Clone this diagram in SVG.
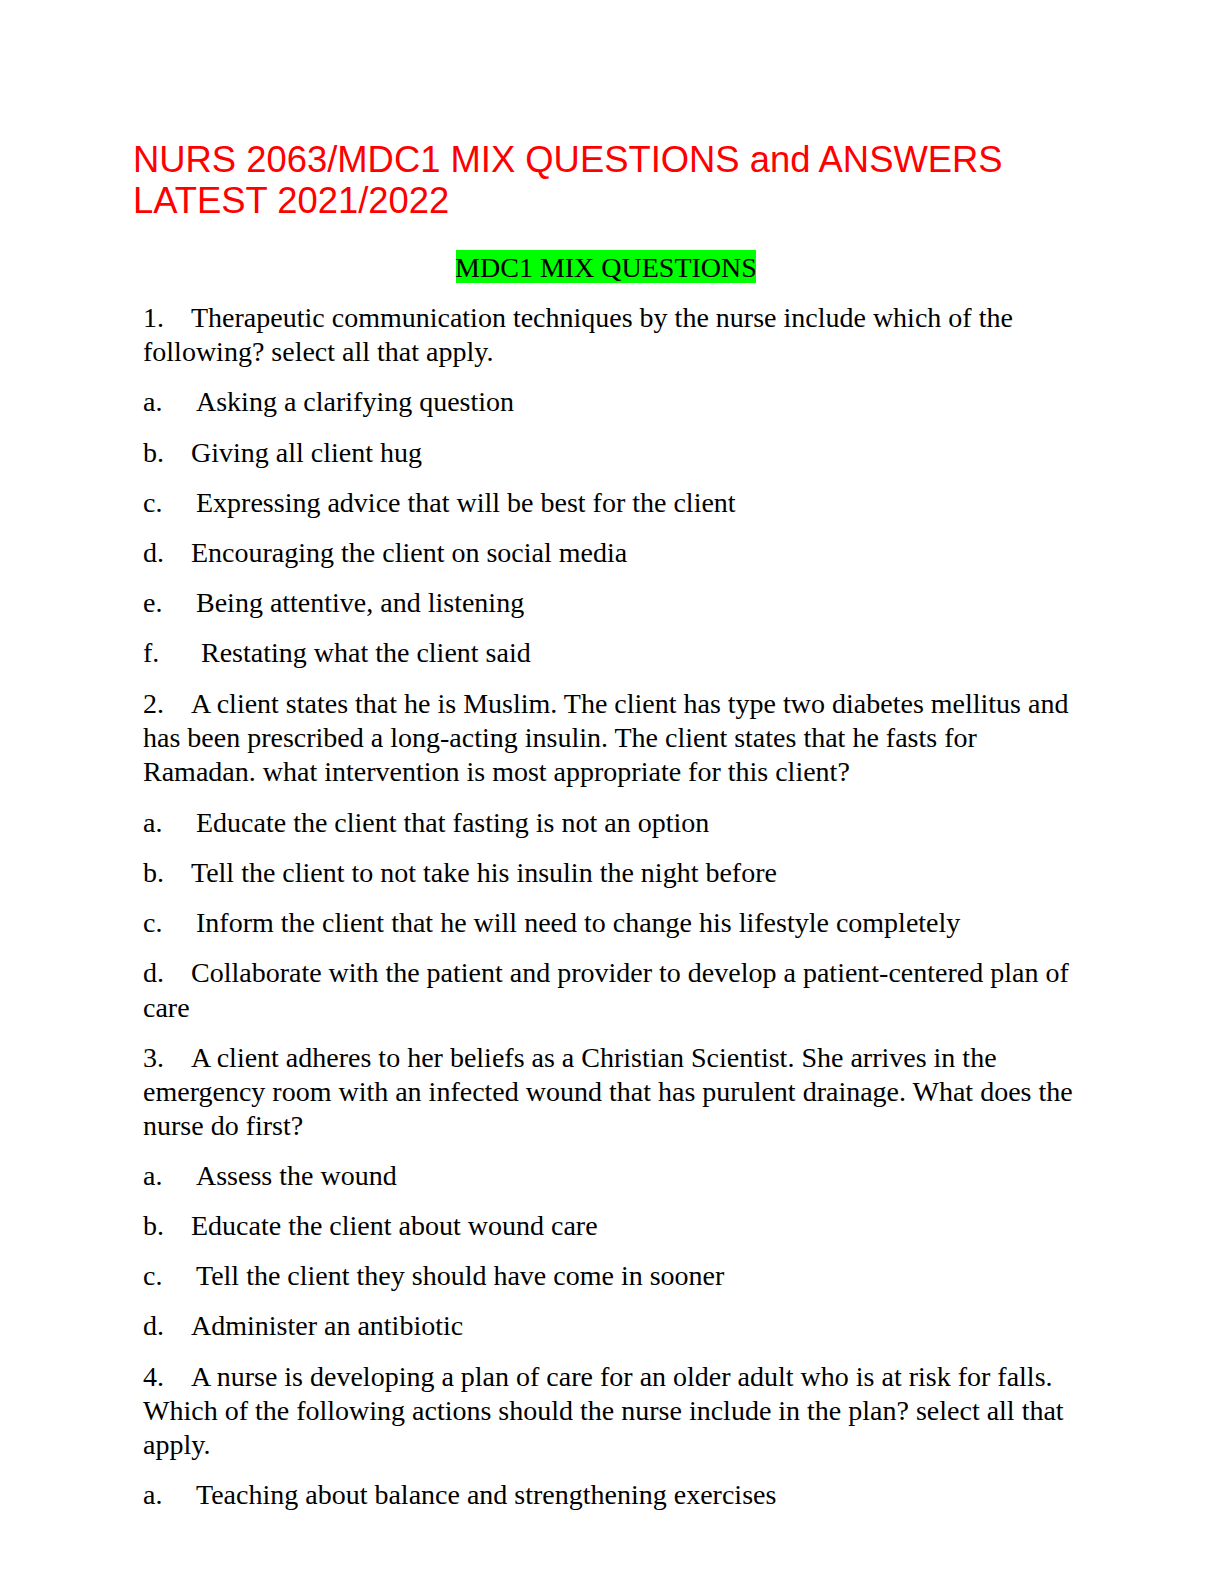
<svg xmlns="http://www.w3.org/2000/svg" width="1224" height="1584" viewBox="0 0 1224 1584">
<style>
.t{font-family:"Liberation Sans",Arial,sans-serif;font-size:36.4px;fill:#ff0000}
.b{font-family:"Liberation Serif","Times New Roman",serif;font-size:28px;fill:#000}
</style>
<rect width="1224" height="1584" fill="#fff"/>
<text class="t" x="133" y="172">NURS 2063/MDC1 MIX QUESTIONS and ANSWERS</text>
<text class="t" x="133" y="213">LATEST 2021/2022</text>
<rect x="456" y="250" width="300" height="33" fill="#00ff00"/>
<text class="b" x="606" y="277" text-anchor="middle">MDC1 MIX QUESTIONS</text>
<g class="b">
<text class="b" x="143" y="327">1.</text><text class="b" x="191" y="327">Therapeutic communication techniques by the nurse include which of the</text>
<text class="b" x="143" y="361">following? select all that apply.</text>
<text class="b" x="143" y="411">a.</text><text class="b" x="196" y="411">Asking a clarifying question</text>
<text class="b" x="143" y="462">b.</text><text class="b" x="191" y="462">Giving all client hug</text>
<text class="b" x="143" y="512">c.</text><text class="b" x="196" y="512">Expressing advice that will be best for the client</text>
<text class="b" x="143" y="562">d.</text><text class="b" x="191" y="562">Encouraging the client on social media</text>
<text class="b" x="143" y="612">e.</text><text class="b" x="196" y="612">Being attentive, and listening</text>
<text class="b" x="143" y="662">f.</text><text class="b" x="201" y="662">Restating what the client said</text>
<text class="b" x="143" y="713">2.</text><text class="b" x="191" y="713">A client states that he is Muslim. The client has type two diabetes mellitus and</text>
<text class="b" x="143" y="747">has been prescribed a long-acting insulin. The client states that he fasts for</text>
<text class="b" x="143" y="781">Ramadan. what intervention is most appropriate for this client?</text>
<text class="b" x="143" y="832">a.</text><text class="b" x="196" y="832">Educate the client that fasting is not an option</text>
<text class="b" x="143" y="882">b.</text><text class="b" x="191" y="882">Tell the client to not take his insulin the night before</text>
<text class="b" x="143" y="932">c.</text><text class="b" x="196" y="932">Inform the client that he will need to change his lifestyle completely</text>
<text class="b" x="143" y="982">d.</text><text class="b" x="191" y="982">Collaborate with the patient and provider to develop a patient-centered plan of</text>
<text class="b" x="143" y="1017">care</text>
<text class="b" x="143" y="1067">3.</text><text class="b" x="191" y="1067">A client adheres to her beliefs as a Christian Scientist. She arrives in the</text>
<text class="b" x="143" y="1101">emergency room with an infected wound that has purulent drainage. What does the</text>
<text class="b" x="143" y="1135">nurse do first?</text>
<text class="b" x="143" y="1185">a.</text><text class="b" x="196" y="1185">Assess the wound</text>
<text class="b" x="143" y="1235">b.</text><text class="b" x="191" y="1235">Educate the client about wound care</text>
<text class="b" x="143" y="1285">c.</text><text class="b" x="196" y="1285">Tell the client they should have come in sooner</text>
<text class="b" x="143" y="1335">d.</text><text class="b" x="191" y="1335">Administer an antibiotic</text>
<text class="b" x="143" y="1386">4.</text><text class="b" x="191" y="1386">A nurse is developing a plan of care for an older adult who is at risk for falls.</text>
<text class="b" x="143" y="1420">Which of the following actions should the nurse include in the plan? select all that</text>
<text class="b" x="143" y="1454">apply.</text>
<text class="b" x="143" y="1504">a.</text><text class="b" x="196" y="1504">Teaching about balance and strengthening exercises</text>
</g>
</svg>
